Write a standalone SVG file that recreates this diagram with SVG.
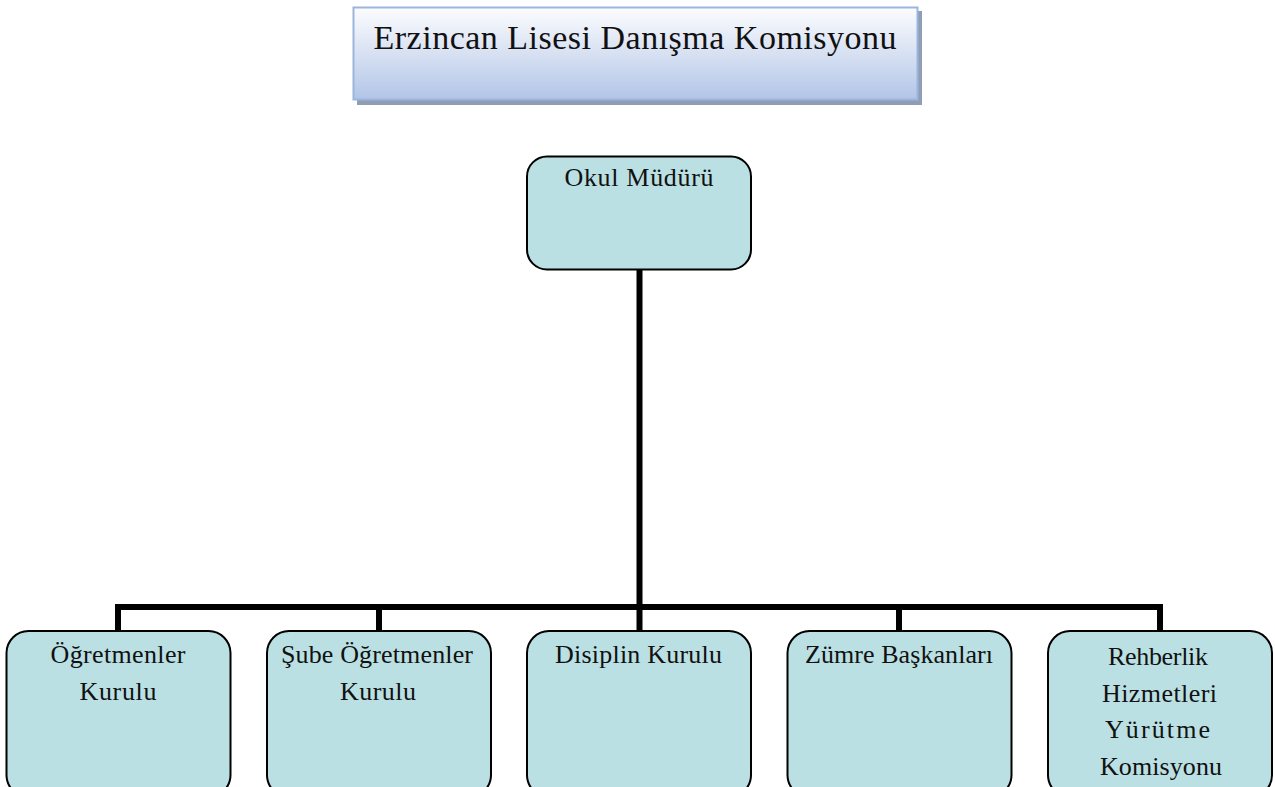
<svg xmlns="http://www.w3.org/2000/svg" width="1275" height="787" viewBox="0 0 1275 787">
<defs>
<linearGradient id="tg" x1="0" y1="0" x2="0" y2="1">
<stop offset="0" stop-color="#fbfcfe"/>
<stop offset="0.3" stop-color="#e6ecf7"/>
<stop offset="1" stop-color="#b2c5e7"/>
</linearGradient>
<style>
.node{fill:#bae0e3;stroke:#000;stroke-width:2}
.t{font-family:"Liberation Serif","Times New Roman",serif;font-size:26px;fill:#111;text-anchor:middle}
.conn{fill:none;stroke:#000;stroke-width:6}
</style>
</defs>
<rect width="1275" height="787" fill="#fff"/>
<g id="title">
<rect x="357" y="11" width="565" height="94" fill="#8f9db5"/>
<rect x="353.5" y="7.5" width="564" height="92" fill="url(#tg)" stroke="#9cb5de" stroke-width="2"/>
<text x="635" y="49" font-family="'Liberation Serif','Times New Roman',serif" font-size="34" fill="#111" text-anchor="middle" textLength="523" lengthAdjust="spacing">Erzincan Lisesi Danışma Komisyonu</text>
</g>
<g id="connectors">
<path class="conn" d="M639.5 270 V607"/>
<path class="conn" d="M115 607 H1163"/>
<path class="conn" d="M118 607 V632 M379 607 V632 M639.5 607 V632 M899 607 V632 M1160 607 V632"/>
</g>
<g id="okul-muduru">
<rect class="node" x="527" y="156.5" width="224" height="113" rx="20"/>
<text class="t" x="639" y="186" textLength="149" lengthAdjust="spacing">Okul Müdürü</text>
</g>
<g id="ogretmenler-kurulu">
<rect class="node" x="6.5" y="631" width="224" height="166" rx="22"/>
<text class="t" x="118" y="663" textLength="135" lengthAdjust="spacing">Öğretmenler</text>
<text class="t" x="118" y="700" textLength="77" lengthAdjust="spacing">Kurulu</text>
</g>
<g id="sube-ogretmenler-kurulu">
<rect class="node" x="267" y="631" width="224" height="166" rx="22"/>
<text class="t" x="377" y="663" textLength="192" lengthAdjust="spacing">Şube Öğretmenler</text>
<text class="t" x="378" y="700" textLength="76" lengthAdjust="spacing">Kurulu</text>
</g>
<g id="disiplin-kurulu">
<rect class="node" x="527" y="631" width="224" height="166" rx="22"/>
<text class="t" x="638.5" y="663" textLength="167" lengthAdjust="spacing">Disiplin Kurulu</text>
</g>
<g id="zumre-baskanlari">
<rect class="node" x="787.5" y="631" width="224" height="166" rx="22"/>
<text class="t" x="899" y="663" textLength="188" lengthAdjust="spacing">Zümre Başkanları</text>
</g>
<g id="rehberlik">
<rect class="node" x="1048" y="631" width="224" height="166" rx="22"/>
<text class="t" x="1158" y="665" textLength="100" lengthAdjust="spacing">Rehberlik</text>
<text class="t" x="1159.5" y="702" textLength="115" lengthAdjust="spacing">Hizmetleri</text>
<text class="t" x="1157.5" y="738" textLength="105" lengthAdjust="spacing">Yürütme</text>
<text class="t" x="1161" y="775" textLength="122" lengthAdjust="spacing">Komisyonu</text>
</g>
</svg>
